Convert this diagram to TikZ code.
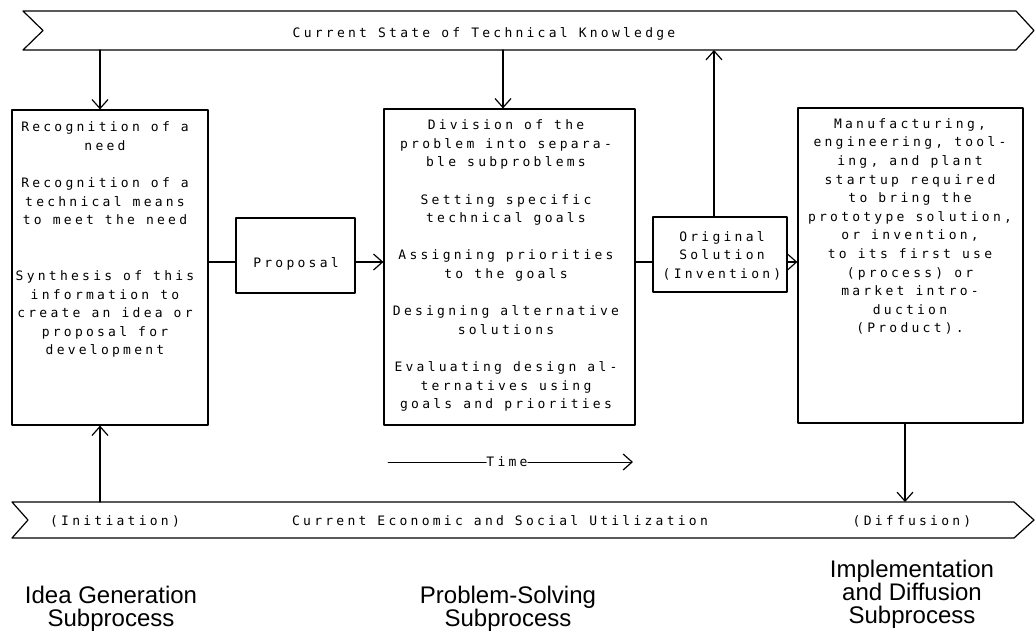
\documentclass[tikz,border=0pt]{standalone}
\usepackage{fontspec}
\setmainfont{Liberation Sans}
\newfontfamily\plotfont[LetterSpace=25]{DejaVu Sans Mono}
\usetikzlibrary{arrows.meta}

\tikzset{
  ln/.style={line width=1.2pt, line cap=round, line join=round},
  arr/.style={ln, -{Straight Barb[length=9pt,width=16pt,line width=1.2pt]}},
  frame/.style={ln, draw, rectangle, inner sep=0pt},
  plot/.style={font=\plotfont\fontsize{13}{18.6}\selectfont, align=center, inner sep=0pt},
  stage/.style={font=\fontsize{24}{22.7}\selectfont, align=center, inner sep=0pt},
}

\begin{document}
\begin{tikzpicture}[x=1pt, y=-1pt]
\useasboundingbox (0,0) rectangle (1036,633);

% knowledge and utilization bands
\draw[ln] (23,11) -- (1016,11) -- (1034,30.5) -- (1016,50) -- (23,50) -- (43,30.5) -- cycle;
\draw[ln] (12,502) -- (1014,502) -- (1034,520) -- (1014,538) -- (12,538) -- (28,520) -- cycle;
\node[plot, anchor=base] (know) at (484,37.5) {Current State of Technical Knowledge};
\node[plot, anchor=base] (init) at (115,525) {(Initiation)};
\node[plot, anchor=base] (util) at (500,525) {Current Economic and Social Utilization};
\node[plot, anchor=base] (diff) at (912,525) {(Diffusion)};

\coordinate (k1) at (100,50);
\coordinate (k2) at (503,50);
\coordinate (k3) at (714,50);
\coordinate (u1) at (100,502);
\coordinate (u2) at (905,502);

% stage boxes
\node[frame, minimum width=196pt, minimum height=315pt] (idea) at (110,267.5) {};
\node[frame, minimum width=119pt, minimum height=75pt] (prop) at (295.5,255.5) {};
\node[frame, minimum width=251pt, minimum height=316pt] (solve) at (509.5,267) {};
\node[frame, minimum width=134pt, minimum height=75pt] (orig) at (720,254.5) {};
\node[frame, minimum width=225pt, minimum height=315pt] (impl) at (910.5,265.5) {};

% box texts (a strut on the first line fixes the distance from the top to the first baseline)
\node[plot, anchor=north] (ideatxt) at (105,118.5) {\strut Recognition of a\\need\\[18.6pt]
Recognition of a\\technical means\\to meet the need\\[37.2pt]
Synthesis of this\\information to\\create an idea or\\proposal for\\development};
\node[plot, anchor=base] (proptxt) at (296,267) {Proposal};
\node[plot, anchor=north] (solvetxt) at (506,116.5) {\strut Division of the\\problem into separa-\\ble subproblems\\[18.6pt]
Setting specific\\technical goals\\[18.6pt]
Assigning priorities\\to the goals\\[18.6pt]
Designing alternative\\solutions\\[18.6pt]
Evaluating design al-\\ternatives using\\goals and priorities};
\node[plot, anchor=north] (origtxt) at (722,228) {\strut Original\\Solution\\(Invention)};
\node[plot, anchor=north] (impltxt) at (910,115) {\strut Manufacturing,\\engineering, tool-\\ing, and plant\\startup required\\to bring the\\prototype solution,\\or invention,\\to its first use\\(process) or\\market intro-\\duction\\(Product).};

% flow between stages
\coordinate (row) at (0,262);
\draw[ln] (idea.east |- row) -- (prop.west |- row);
\draw[arr] (prop.east |- row) -- (solve.west |- row);
\draw[ln] (solve.east |- row) -- (orig.west |- row);
\draw[arr] (orig.east |- row) -- (impl.west |- row);

% links to the bands
\draw[arr] (k1) -- (k1 |- idea.north);
\draw[arr] (k2) -- (k2 |- solve.north);
\draw[arr] (k3 |- orig.north) -- (k3);
\draw[arr] (u2 |- impl.south) -- (u2);
\draw[arr] (u1) -- (u1 |- idea.south);

% time axis
\node[plot] (time) at (507,462) {Time};
\coordinate (t0) at (388,462);
\coordinate (t1) at (633,462);
\draw[ln, line width=0.9pt] (t0) -- (time.west);
\draw[arr, line width=0.9pt] (time.east) -- (t1);

% subprocess labels (base = last line)
\node[stage, anchor=base] (lab1) at (111,626) {Idea Generation\\Subprocess};
\node[stage, anchor=base] (lab2) at (508,626) {Problem-Solving\\Subprocess};
\node[stage, anchor=base] (lab3) at (912,623) {Implementation\\and Diffusion\\Subprocess};
\end{tikzpicture}
\end{document}
